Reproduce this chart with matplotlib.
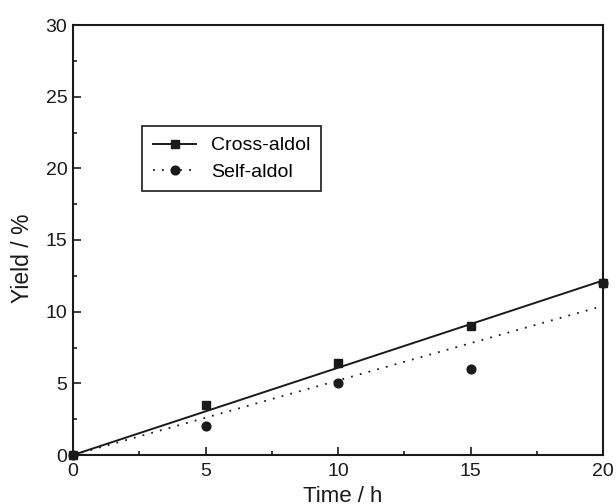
import matplotlib
matplotlib.use('Agg')
import matplotlib.pyplot as plt
from matplotlib.lines import Line2D
from matplotlib.ticker import MultipleLocator
import numpy as np

plt.rcParams['font.family'] = ['Liberation Sans', 'DejaVu Sans']

# reaction time (h) and yields (%)
time_h = np.array([0, 5, 10, 15, 20])
cross_aldol = np.array([0, 3.5, 6.4, 9.0, 12.0])
self_aldol = np.array([0, 2.0, 5.0, 6.0, 12.0])

col = '#1a1a1a'

fig = plt.figure(figsize=(6.16, 5.04), dpi=100)
ax = fig.add_axes([73/616, 49/504, 530/616, 430/504])

# linear fits through the origin
xfit = np.array([0, 20])
k_cross = np.sum(time_h*cross_aldol) / np.sum(time_h**2)
k_self = np.sum(time_h*self_aldol) / np.sum(time_h**2)
ax.plot(xfit, k_cross*xfit, '-', color=col, lw=1.4, zorder=2)
ax.plot(xfit, k_self*xfit, linestyle=(0, (1, 4)), color=col, lw=1.3, zorder=2)

ax.plot(time_h, self_aldol, 'o', color=col, ms=6.3, clip_on=False, zorder=3)
ax.plot(time_h, cross_aldol, 's', color=col, ms=6.3, clip_on=False, zorder=4)

ax.set_xlim(0, 20)
ax.set_ylim(0, 30)
ax.xaxis.set_major_locator(MultipleLocator(5))
ax.xaxis.set_minor_locator(MultipleLocator(2.5))
ax.yaxis.set_major_locator(MultipleLocator(5))
ax.yaxis.set_minor_locator(MultipleLocator(2.5))
ax.tick_params(which='both', direction='in', top=False, right=False,
               color=col, width=1.2, labelsize=14, labelcolor=col)
ax.tick_params(which='major', length=6)
ax.tick_params(which='minor', length=3)
ax.tick_params(axis='x', which='major', pad=6)
ax.tick_params(axis='y', which='major', pad=4)
for s in ax.spines.values():
    s.set_linewidth(1.5)
    s.set_color(col)

ax.set_xlabel('Time / h', fontsize=16, color=col)
ax.xaxis.set_label_coords(0.508, -0.072)
ax.set_ylabel('Yield / %', fontsize=16.5, color=col)
ax.yaxis.set_label_coords(-0.074, 0.458)

handles = [Line2D([], [], color=col, lw=1.4, marker='s', ms=6.3),
           Line2D([], [], color=col, lw=1.3, linestyle=(0, (1, 4)), marker='o', ms=6.3)]
leg = ax.legend(handles, ['Cross-aldol', 'Self-aldol'], loc='upper left',
                bbox_to_anchor=(142/616, 1 - 126/504), bbox_transform=fig.transFigure,
                borderaxespad=0, fancybox=False, framealpha=1, edgecolor=col,
                fontsize=14, handlelength=2.25, handletextpad=0.75, numpoints=1,
                borderpad=0.55, labelspacing=0.45)
leg.get_frame().set_linewidth(1.2)

fig.savefig('out.png', dpi=100)
